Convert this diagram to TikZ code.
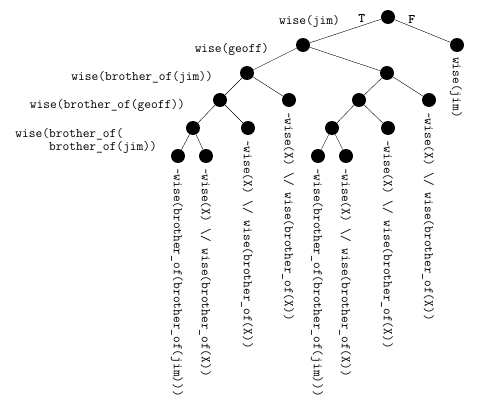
\documentclass[tikz,border=0pt]{standalone}
\usepackage{fontspec}
\usetikzlibrary{calc}

\begin{document}
\begin{tikzpicture}[x=1pt, y=-1pt,
    bullet/.style={circle, fill=black, inner sep=0pt, minimum size=14pt},
    lbl/.style={font=\fontsize{13.07}{12.5}\selectfont\ttfamily, anchor=east, inner sep=0pt},
    leaf/.style={font=\fontsize{13.07}{12.5}\selectfont\ttfamily, rotate=-90, anchor=west, inner sep=0pt},
    tf/.style={font=\fontsize{13.07}{12.5}\selectfont\ttfamily\bfseries, above=3pt, inner sep=0pt}]
    \useasboundingbox (0, 0) rectangle (477, 415);

    % the tree
    \node[bullet] (n)      at (388, 17) {};
    \node[bullet] (nF)     at (457, 45) {};
    \node[bullet] (nT)     at (303, 45) {};
    \node[bullet] (nTT)    at (247, 73) {};
    \node[bullet] (nTF)    at (387, 73) {};
    \node[bullet] (nTTT)   at (220, 100) {};
    \node[bullet] (nTTF)   at (289, 100) {};
    \node[bullet] (nTFT)   at (359, 100) {};
    \node[bullet] (nTFF)   at (429, 100) {};
    \node[bullet] (nTTTT)  at (193, 128) {};
    \node[bullet] (nTTTF)  at (248, 128) {};
    \node[bullet] (nTFTT)  at (332, 128) {};
    \node[bullet] (nTFTF)  at (388, 128) {};
    \node[bullet] (nTTTTT) at (178, 156) {};
    \node[bullet] (nTTTTF) at (206, 156) {};
    \node[bullet] (nTFTTT) at (318, 156) {};
    \node[bullet] (nTFTTF) at (346, 156) {};

    \draw (n) -- node[tf, pos=0.27] {T} (nT);
    \draw (n) -- node[tf, pos=0.31] {F} (nF);
    \draw (nT) -- (nTT);
    \draw (nT) -- (nTF);
    \draw (nTT) -- (nTTT);
    \draw (nTT) -- (nTTF);
    \draw (nTF) -- (nTFT);
    \draw (nTF) -- (nTFF);
    \draw (nTTT) -- (nTTTT);
    \draw (nTTT) -- (nTTTF);
    \draw (nTFT) -- (nTFTT);
    \draw (nTFT) -- (nTFTF);
    \draw (nTTTT) -- (nTTTTT);
    \draw (nTTTT) -- (nTTTTF);
    \draw (nTFTT) -- (nTFTTT);
    \draw (nTFTT) -- (nTFTTF);

    % atoms split on
    \node[lbl] (a1) at (340, 21) {wise(jim)};
    \node[lbl] (a2) at (269, 49) {wise(geoff)};
    \node[lbl] (a3) at (213, 77) {wise(brother\_of(jim))};
    \node[lbl] (a4) at (185, 105) {wise(brother\_of(geoff))};
    \node[lbl, align=left] (a5) at (157, 141)
        {wise(brother\_of(\\\phantom{xxxxx}brother\_of(jim))};

    % closing clauses
    \node[leaf] (c1) at ($(nF)+(-1, 12)$) {wise(jim)};
    \node[leaf] (c2) at ($(nTTF)+(-1, 12)$) {\string~wise(X) \string\/ wise(brother\_of(X))};
    \node[leaf] (c3) at ($(nTFF)+(-1, 12)$) {\string~wise(X) \string\/ wise(brother\_of(X))};
    \node[leaf] (c4) at ($(nTTTF)+(-1, 12)$) {\string~wise(X) \string\/ wise(brother\_of(X))};
    \node[leaf] (c5) at ($(nTFTF)+(-1, 12)$) {\string~wise(X) \string\/ wise(brother\_of(X))};
    \node[leaf] (c6) at ($(nTTTTT)+(-1, 12)$) {\string~wise(brother\_of(brother\_of(jim)))};
    \node[leaf] (c7) at ($(nTTTTF)+(-1, 12)$) {\string~wise(X) \string\/ wise(brother\_of(X))};
    \node[leaf] (c8) at ($(nTFTTT)+(-1, 12)$) {\string~wise(brother\_of(brother\_of(jim)))};
    \node[leaf] (c9) at ($(nTFTTF)+(-1, 12)$) {\string~wise(X) \string\/ wise(brother\_of(X))};
\end{tikzpicture}
\end{document}
